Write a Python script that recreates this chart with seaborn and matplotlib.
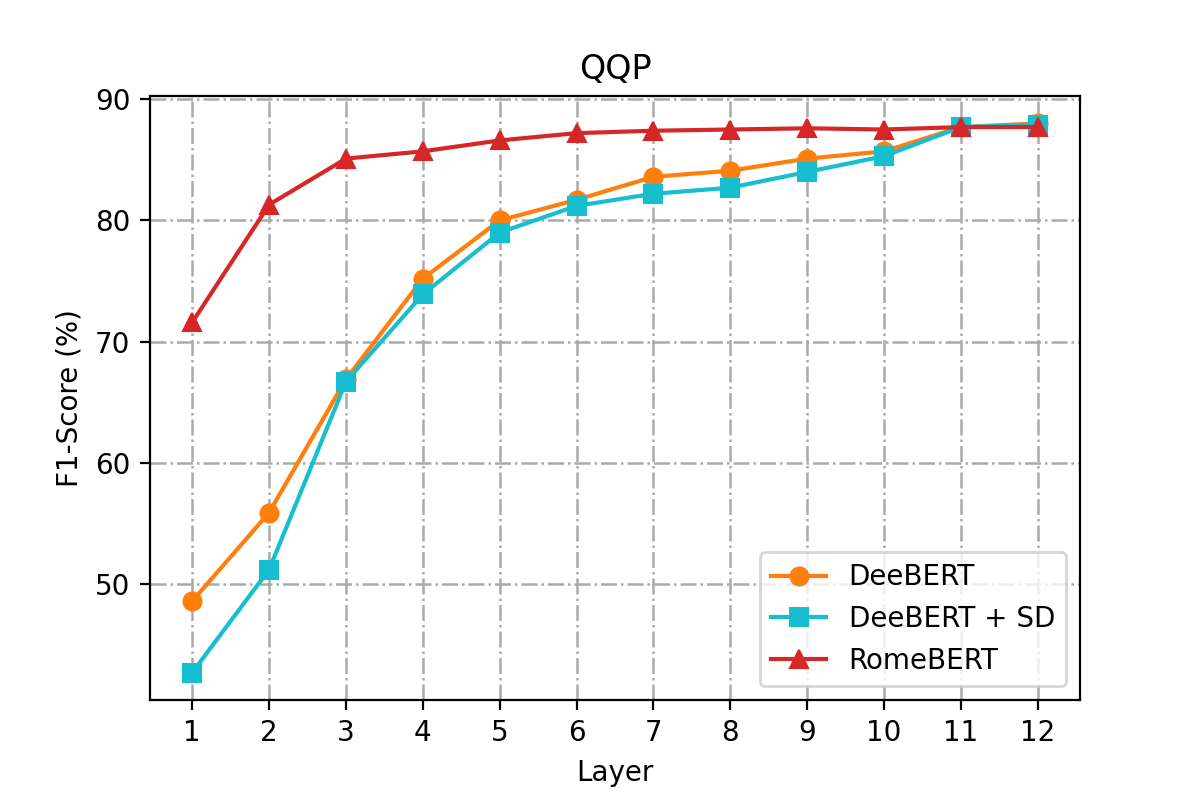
import matplotlib
matplotlib.use('Agg')
import matplotlib.pyplot as plt
import seaborn as sns
import pandas as pd

# 数据
layers = list(range(1, 13))
deebert = [48.6, 55.9, 66.9, 75.2, 80.0, 81.7, 83.6, 84.1, 85.1, 85.7, 87.7, 88.0]
deebert_sd = [42.7, 51.2, 66.7, 73.9, 79.0, 81.2, 82.2, 82.7, 84.0, 85.3, 87.7, 87.9]
romebert = [71.6, 81.3, 85.1, 85.7, 86.6, 87.2, 87.4, 87.5, 87.6, 87.5, 87.7, 87.7]

series = {
    'DeeBERT': (deebert, '#ff7f0e', 'o'),
    'DeeBERT + SD': (deebert_sd, '#17becf', 's'),
    'RomeBERT': (romebert, '#d62728', '^'),
}

plt.rcParams['font.family'] = ['DejaVu Sans']

fig, ax = plt.subplots(figsize=(6, 4), dpi=200)
fig.subplots_adjust(left=0.125, right=0.9, top=0.88, bottom=0.125)

for name, (vals, color, marker) in series.items():
    df = pd.DataFrame({'Layer': layers, 'F1': vals})
    sns.lineplot(data=df, x='Layer', y='F1', ax=ax, color=color, marker=marker,
                 markersize=6.5, markeredgecolor=color, linewidth=1.5, label=name)

ax.set_xticks(layers)
ax.set_yticks([50, 60, 70, 80, 90])
ax.grid(True, linestyle='-.', color='#aaaaaa', linewidth=0.9)
ax.set_axisbelow(True)
ax.set_title('QQP')
ax.set_xlabel('Layer')
ax.set_ylabel('F1-Score (%)')
ax.legend(loc='lower right')

plt.savefig('out.png', dpi=200)
